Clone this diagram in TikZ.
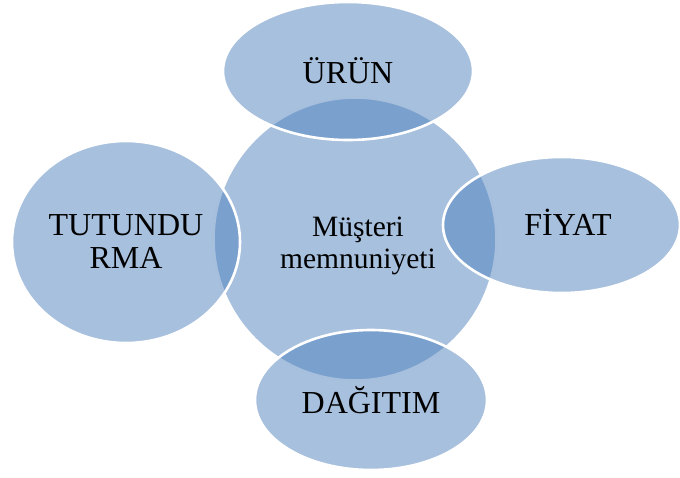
\documentclass[tikz,border=0pt]{standalone}
\usepackage{fontspec}
\setmainfont{Liberation Serif}
\usetikzlibrary{shapes.geometric}
\definecolor{officeblue}{RGB}{79,129,189}
\tikzset{
  blob/.style={ellipse, inner sep=0pt, fill=officeblue, fill opacity=0.5,
    draw=white, draw opacity=1, line width=2.6pt, text opacity=1,
    text=black, align=center},
  bigtext/.style={font=\fontsize{32}{33}\selectfont},
  caption/.style={align=center, inner sep=0pt, text=black},
  hubtext/.style={caption, font=\fontsize{29.5}{32}\selectfont}
}
\begin{document}
\begin{tikzpicture}[x=1pt,y=-1pt]
  \useasboundingbox (0,0) rectangle (680,477);
  % central circle and its caption
  \node[blob, minimum width=283pt, minimum height=283pt] (hub) at (355,239) {};
  \node[hubtext] (hublabel) at (358,246) {Müşteri\\memnuniyeti};
  % surrounding ellipses
  \node[blob, bigtext, minimum width=250pt, minimum height=138pt] (urun) at (348,71) {ÜRÜN};
  \node[blob, minimum width=237pt, minimum height=136pt] (fiyat) at (561.5,225) {};
  \node[caption, bigtext] (fiyatlabel) at (568,222) {FİYAT};
  \node[blob, bigtext, minimum width=228pt, minimum height=202pt] (tutundurma) at (126,242) {TUTUNDU\\RMA};
  \node[blob, bigtext, minimum width=232pt, minimum height=140pt] (dagitim) at (371,400) {DAĞITIM};
\end{tikzpicture}
\end{document}
